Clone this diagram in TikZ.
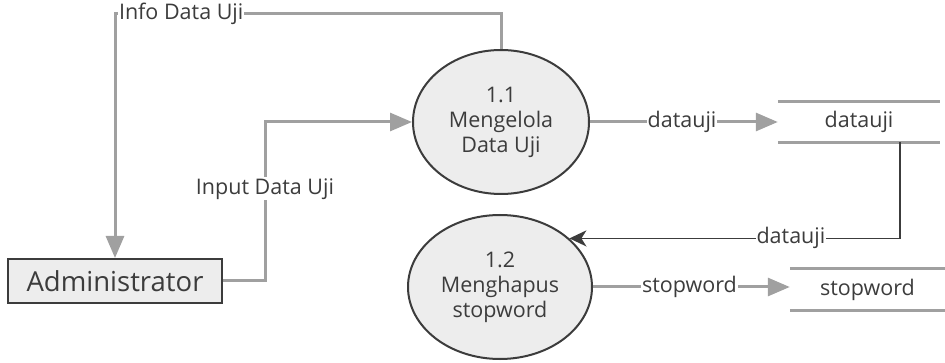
\documentclass[tikz,border=0pt]{standalone}
\usepackage{fontspec}
\setmainfont{Open Sans}
\usetikzlibrary{arrows.meta,shapes.geometric}
\definecolor{flowgray}{HTML}{A0A0A0}
\definecolor{inkgray}{HTML}{3C3C3C}
\definecolor{bubble}{HTML}{EDEDED}
\begin{document}
\begin{tikzpicture}[x=1pt,y=-1pt,
  process/.style={ellipse, draw=inkgray, line width=2pt, fill=bubble, inner sep=0pt,
    text=inkgray, align=center, font=\fontsize{21.5}{25}\selectfont},
  entity/.style={rectangle, draw=inkgray, line width=2pt, fill=bubble,
    minimum width=214pt, minimum height=44pt, inner sep=0pt, text=inkgray,
    font=\fontsize{27.5}{30}\selectfont},
  store/.style={rectangle, inner sep=0pt, text=inkgray, font=\fontsize{21.5}{24}\selectfont},
  storeline/.style={draw=flowgray, line width=3pt},
  flow/.style={draw=flowgray, line width=3pt, -{Triangle[length=22pt,width=18pt]}},
  darkflow/.style={draw=inkgray, line width=1.8pt, -{Stealth[length=17pt,width=16pt,inset=5pt]}},
  lbl/.style={fill=white, inner sep=1pt, text=inkgray, font=\fontsize{21.5}{24}\selectfont}
]
\useasboundingbox (0,0) rectangle (945,363);

% external entity
\node[entity] (adm) at (115,281) {Administrator};

% processes
\node[process, minimum width=176pt, minimum height=144pt] (p11) at (501,122)
  {1.1\\Mengelola\\Data Uji};
\node[process, minimum width=184pt, minimum height=144pt] (p12) at (500,287)
  {1.2\\Menghapus\\stopword};

% data stores
\node[store, minimum width=162pt, minimum height=40pt] (ds) at (859,122) {datauji};
\draw[storeline] (ds.north west) -- (ds.north east);
\draw[storeline] (ds.south west) -- (ds.south east);
\node[store, minimum width=155pt, minimum height=41pt] (sw) at (867.5,289.5) {stopword};
\draw[storeline] (sw.north west) -- (sw.north east);
\draw[storeline] (sw.south west) -- (sw.south east);

% data flows
\draw[flow] (p11.north) -- ++(0,-35) -| node[pos=0.5, anchor=west, xshift=1.5pt, lbl]{Info Data Uji} (adm.north);
\draw[flow] (adm.east) -- ++(42,0) |- node[pos=0.29, lbl]{Input Data Uji} (p11.west);
\draw[flow] (p11.east) -- node[pos=0.49, lbl]{datauji} (ds.west);
\draw[darkflow] ([xshift=41pt]ds.south) |- node[pos=0.665, lbl]{datauji} (p12.35.6);
\draw[flow] (p12.east) -- node[pos=0.49, lbl]{stopword} (p12.east -| sw.west);
\end{tikzpicture}
\end{document}
